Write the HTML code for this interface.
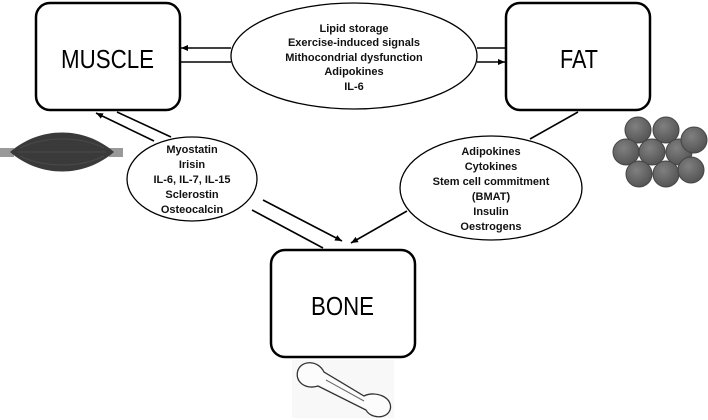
<!DOCTYPE html>
<html><head><style>
html,body{margin:0;padding:0;background:#fff;}
svg{display:block;}
text{font-family:"Liberation Sans",sans-serif;}
</style></head><body>
<svg width="708" height="420" viewBox="0 0 708 420" xmlns="http://www.w3.org/2000/svg">
<defs>
<marker id="a" markerWidth="8" markerHeight="8" refX="7" refY="4" orient="auto" markerUnits="userSpaceOnUse">
<path d="M0,1 L7,4 L0,7 z" fill="#000"/></marker>
<radialGradient id="g" cx="40%" cy="35%" r="65%"><stop offset="0" stop-color="#808080"/><stop offset="1" stop-color="#555"/></radialGradient>
</defs>
<rect x="36" y="3" width="144" height="107" rx="14" fill="#fff" stroke="#000" stroke-width="2.5"/>
<text x="61" y="68" font-size="26" textLength="93" lengthAdjust="spacingAndGlyphs">MUSCLE</text>
<rect x="506" y="3" width="144" height="107" rx="14" fill="#fff" stroke="#000" stroke-width="2.5"/>
<text x="560" y="68" font-size="26" textLength="38" lengthAdjust="spacingAndGlyphs">FAT</text>
<rect x="271" y="250" width="144" height="107" rx="14" fill="#fff" stroke="#000" stroke-width="2.5"/>
<text x="311" y="315" font-size="26" textLength="63" lengthAdjust="spacingAndGlyphs">BONE</text>
<g stroke="#000" stroke-width="1.6" fill="none">
<line x1="231" y1="48" x2="181" y2="48" marker-end="url(#a)"/>
<line x1="231" y1="62" x2="181" y2="62"/>
<line x1="477" y1="48" x2="505" y2="48"/>
<line x1="477" y1="62" x2="505" y2="62" marker-end="url(#a)"/>
<line x1="154" y1="141" x2="96" y2="113" marker-end="url(#a)"/>
<line x1="171" y1="137" x2="117" y2="112"/>
<line x1="263" y1="200" x2="342" y2="241" marker-end="url(#a)"/>
<line x1="252" y1="210" x2="323" y2="248"/>
<line x1="578" y1="112" x2="530" y2="139"/>
<line x1="407" y1="211" x2="351" y2="243" marker-end="url(#a)"/>
</g>
<ellipse cx="354" cy="56" rx="123" ry="53" fill="#fff" stroke="#000" stroke-width="1.3"/>
<g font-size="11" text-anchor="middle" font-weight="bold" fill="#111">
<text x="354" y="32">Lipid storage</text>
<text x="354" y="46">Exercise-induced signals</text>
<text x="354" y="61">Mithocondrial dysfunction</text>
<text x="354" y="75">Adipokines</text>
<text x="354" y="90">IL-6</text>
</g>
<ellipse cx="192" cy="179" rx="65" ry="42" fill="#fff" stroke="#000" stroke-width="1.3"/>
<g font-size="11" text-anchor="middle" font-weight="bold" fill="#111">
<text x="192" y="153">Myostatin</text>
<text x="192" y="168">Irisin</text>
<text x="192" y="183">IL-6, IL-7, IL-15</text>
<text x="192" y="198">Sclerostin</text>
<text x="192" y="213">Osteocalcin</text>
</g>
<ellipse cx="491" cy="188" rx="91" ry="52" fill="#fff" stroke="#000" stroke-width="1.3"/>
<g font-size="11" text-anchor="middle" font-weight="bold" fill="#111">
<text x="491" y="155">Adipokines</text>
<text x="491" y="170">Cytokines</text>
<text x="491" y="185">Stem cell commitment</text>
<text x="491" y="200">(BMAT)</text>
<text x="491" y="215">Insulin</text>
<text x="491" y="230">Oestrogens</text>
</g>
<rect x="0" y="148" width="14" height="9" fill="#999"/>
<rect x="109" y="148" width="14" height="9" fill="#999"/>
<path d="M10,152 C40,126 84,126 114,152 C84,178 40,178 10,152 z" fill="#3a3a3a"/>
<path d="M20,148 C45,136 80,136 104,148 M18,152 L106,152 M20,156 C45,168 80,168 104,156" stroke="#4a4a4a" fill="none"/>
<g fill="url(#g)" stroke="#444" stroke-width="1">
<circle cx="638" cy="130" r="13"/><circle cx="666" cy="130" r="13"/>
<circle cx="626" cy="152" r="13"/><circle cx="652" cy="152" r="13"/><circle cx="679" cy="152" r="13"/><circle cx="694" cy="140" r="13"/>
<circle cx="639" cy="174" r="13"/><circle cx="666" cy="174" r="13"/><circle cx="691" cy="170" r="13"/>
</g>
<rect x="292" y="360" width="102" height="58" fill="#f8f8f8"/>
<path d="M298,370 C302,360 318,360 324,372 L364,396 C376,390 394,398 390,410 C386,420 370,418 366,410 L318,386 C306,390 294,382 298,370 z" fill="#fcfcfc" stroke="#333" stroke-width="1.3"/>
<path d="M326,380 L364,401" stroke="#666" fill="none"/>
</svg>
</body></html>
